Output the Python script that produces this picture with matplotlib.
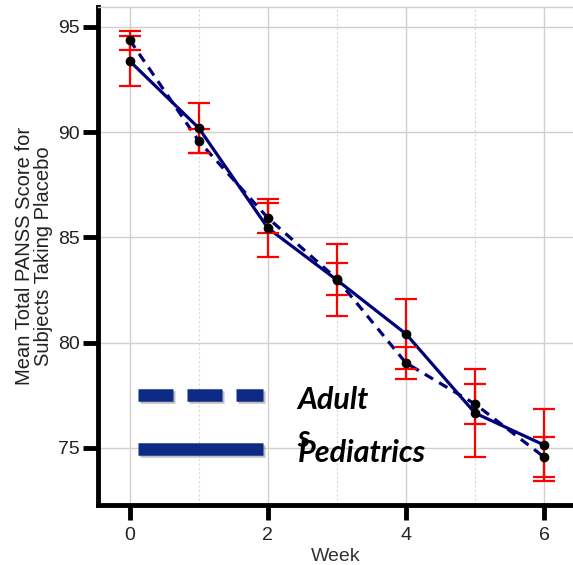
import numpy as np
import matplotlib
matplotlib.use("Agg")
import matplotlib.pyplot as plt
import matplotlib.patheffects as pe
from matplotlib.lines import Line2D

weeks = [0, 1, 2, 3, 4, 5, 6]
adult_mean = [94.38, 89.58, 85.93, 83.03, 79.04, 77.09, 74.57]
adult_err = [0.45, 0.57, 0.71, 0.76, 0.78, 0.93, 0.93]
peds_mean = [93.38, 90.20, 85.45, 82.98, 80.42, 76.66, 75.14]
peds_err = [1.19, 1.21, 1.38, 1.69, 1.66, 2.11, 1.73]

yticks = [75, 80, 85, 90, 95]
xticks = [0, 2, 4, 6]
xminor = [1, 3, 5]

plt.rcParams['font.family'] = ['Liberation Sans', 'DejaVu Sans']

fig = plt.figure(figsize=(5.73, 5.65), dpi=100)
ax = fig.add_axes([98/573, 60/565, 475/573, 498/565])

navy = "#00007a"
ax.plot(weeks, adult_mean, color=navy, lw=2.3, ls=(0, (3, 2.2)), zorder=3)
ax.plot(weeks, peds_mean, color=navy, lw=2.3, ls="-", zorder=3)
ax.errorbar(weeks, adult_mean, yerr=adult_err, fmt="none", ecolor="red",
            elinewidth=1.6, capsize=8, capthick=1.6, zorder=4)
ax.errorbar(weeks, peds_mean, yerr=peds_err, fmt="none", ecolor="red",
            elinewidth=1.6, capsize=8, capthick=1.6, zorder=4)
ax.plot(weeks, adult_mean, "o", color="black", ms=6, zorder=5)
ax.plot(weeks, peds_mean, "o", color="black", ms=6, zorder=5)

ax.set_xlim(-0.46, 6.42)
ax.set_ylim(72.29, 95.95)
ax.set_xticks(xticks)
ax.set_xticks(xminor, minor=True)
ax.set_yticks(yticks)

ax.grid(which="major", color="#d0d0d0", lw=1.0, zorder=0)
ax.grid(which="minor", axis="x", color="#d8d8d8", lw=0.8, ls=(0, (2, 2)), zorder=0)
ax.set_axisbelow(True)

for s in ["left", "bottom"]:
    ax.spines[s].set_linewidth(3.5)
    ax.spines[s].set_color("black")
ax.spines["right"].set_visible(False)
ax.spines["top"].set_color("#d0d0d0")
ax.spines["top"].set_linewidth(1)
ax.tick_params(which="major", length=11, width=3.5, labelsize=14,
               colors="black", labelcolor="#222222")
ax.tick_params(axis="y", pad=2)
ax.tick_params(axis="x", pad=5)
ax.tick_params(which="minor", length=0)

ax.set_xlabel("Week", fontsize=14, color="#333333", labelpad=3)
ax.set_ylabel("Mean Total PANSS Score for\nSubjects Taking Placebo",
              fontsize=14.5, color="#222222", labelpad=4, linespacing=1.0)

# overlaid legend
shadow = [pe.SimpleLineShadow(offset=(1.5, -1.5), shadow_color="grey", alpha=0.5), pe.Normal()]
leg_col = "#0d2b84"
ax.add_line(Line2D([0.084, 0.347], [0.221, 0.221], transform=ax.transAxes,
                   color=leg_col, lw=9, ls=(0, (2.8, 1.12)), solid_capstyle="butt",
                   dash_capstyle="butt", path_effects=shadow, zorder=6))
ax.add_line(Line2D([0.084, 0.347], [0.112, 0.112], transform=ax.transAxes,
                   color=leg_col, lw=9, ls="-", solid_capstyle="butt",
                   path_effects=shadow, zorder=6))
tfont = dict(family=["Lato", "DejaVu Sans"], fontsize=22, fontweight="bold",
             fontstyle="italic", color="black", zorder=7)
ax.text(0.42, (505-447)/498, "Adult\ns", transform=ax.transAxes, va="baseline",
        ha="left", linespacing=1.45, **tfont)
ax.text(0.42, (505-462)/498, "Pediatrics", transform=ax.transAxes, va="baseline",
        ha="left", **tfont)

fig.savefig("out.png", dpi=100)
